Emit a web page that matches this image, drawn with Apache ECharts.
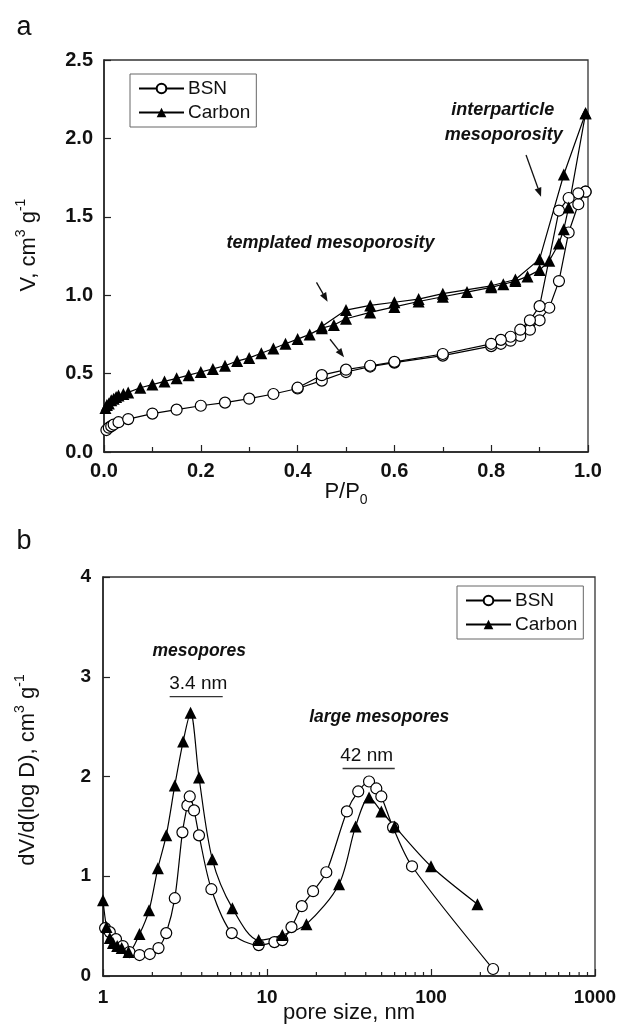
<!DOCTYPE html>
<html>
<head>
<meta charset="utf-8">
<script src="https://cdn.jsdelivr.net/npm/echarts@6/dist/echarts.min.js"></script>
<style>
    html, body { margin: 0; padding: 0; background: #fff; }
    #main { width: 620px; height: 1029px; }
</style>
</head>
<body>
<div id="main"></div>
<script>
// ---- panel a : N2 isotherms (adsorption + desorption branches) ----
var bsnAdsX = [0.005, 0.01, 0.015, 0.02, 0.03, 0.05, 0.1, 0.15, 0.2, 0.25, 0.3, 0.35, 0.4, 0.45, 0.5, 0.55, 0.6, 0.7, 0.8, 0.82, 0.84, 0.86, 0.88, 0.9, 0.92, 0.94, 0.96, 0.98, 0.995];
var bsnAdsY = [0.14, 0.155, 0.165, 0.175, 0.19, 0.21, 0.245, 0.27, 0.295, 0.315, 0.34, 0.37, 0.405, 0.455, 0.51, 0.545, 0.57, 0.615, 0.675, 0.69, 0.71, 0.74, 0.78, 0.84, 0.92, 1.09, 1.40, 1.58, 1.66];
var bsnDesX = [0.995, 0.98, 0.96, 0.94, 0.9, 0.88, 0.86, 0.84, 0.82, 0.8, 0.7, 0.6, 0.55, 0.5, 0.45, 0.4];
var bsnDesY = [1.66, 1.65, 1.62, 1.54, 0.93, 0.84, 0.78, 0.735, 0.715, 0.69, 0.625, 0.575, 0.55, 0.525, 0.49, 0.41];

var carAdsX = [0.003, 0.006, 0.01, 0.015, 0.02, 0.025, 0.03, 0.04, 0.05, 0.075, 0.1, 0.125, 0.15, 0.175, 0.2, 0.225, 0.25, 0.275, 0.3, 0.325, 0.35, 0.375, 0.4, 0.425, 0.45, 0.475, 0.5, 0.55, 0.6, 0.65, 0.7, 0.75, 0.8, 0.825, 0.85, 0.875, 0.9, 0.92, 0.94, 0.95, 0.96, 0.995];
var carAdsY = [0.28, 0.30, 0.31, 0.33, 0.34, 0.35, 0.36, 0.37, 0.38, 0.41, 0.43, 0.45, 0.47, 0.49, 0.51, 0.53, 0.55, 0.58, 0.60, 0.63, 0.66, 0.69, 0.72, 0.75, 0.79, 0.81, 0.85, 0.89, 0.925, 0.96, 0.99, 1.02, 1.05, 1.07, 1.09, 1.12, 1.16, 1.22, 1.33, 1.42, 1.56, 2.16];
var carDesX = [0.995, 0.95, 0.9, 0.85, 0.8, 0.7, 0.65, 0.6, 0.55, 0.5, 0.45];
var carDesY = [2.16, 1.77, 1.23, 1.10, 1.06, 1.01, 0.975, 0.955, 0.935, 0.905, 0.80];

var aXTicks = [0, 1, 0.2];     // min, max, interval
var aYTicks = [0, 2.5, 0.5];

// ---- panel b : pore size distributions ----
var bsnPoreX = [1.03, 1.1, 1.2, 1.32, 1.45, 1.67, 1.93, 2.18, 2.43, 2.74, 3.05, 3.27, 3.38, 3.59, 3.85, 4.58, 6.1, 8.9, 11.1, 12.4, 14.1, 16.3, 19.1, 23, 30.7, 36, 41.9, 46.4, 49.8, 58.7, 76.6, 239];
var bsnPoreY = [0.48, 0.44, 0.37, 0.30, 0.24, 0.21, 0.22, 0.28, 0.43, 0.78, 1.44, 1.71, 1.80, 1.66, 1.41, 0.87, 0.43, 0.31, 0.34, 0.36, 0.49, 0.70, 0.85, 1.04, 1.65, 1.85, 1.95, 1.88, 1.80, 1.49, 1.10, 0.07];
var carPoreX = [1.0, 1.05, 1.1, 1.15, 1.22, 1.3, 1.43, 1.67, 1.91, 2.16, 2.43, 2.74, 3.08, 3.42, 3.85, 4.64, 6.15, 8.9, 12.4, 17.4, 27.5, 34.7, 41.9, 49.8, 60, 100, 192];
var carPoreY = [0.76, 0.49, 0.38, 0.33, 0.30, 0.28, 0.24, 0.42, 0.66, 1.08, 1.41, 1.91, 2.35, 2.64, 1.99, 1.17, 0.68, 0.36, 0.41, 0.52, 0.92, 1.50, 1.79, 1.65, 1.50, 1.10, 0.72];

var bXRange = [1, 1000];
var bYTicks = [0, 4, 1];

var FONT = '"Liberation Sans", Arial, Helvetica, sans-serif';

function pairs(xs, ys) {
    return xs.map(function (x, i) { return [x, ys[i]]; });
}

function lineSeries(name, data, idx, marker, smooth, clip) {
    var circle = marker === 'o';
    return {
        name: name,
        type: 'line',
        xAxisIndex: idx,
        yAxisIndex: idx,
        data: data,
        symbol: circle ? 'circle' : 'triangle',
        symbolSize: circle ? 11 : 12,
        showSymbol: true,
        showAllSymbol: true,
        smooth: smooth,
        clip: clip,
        silent: true,
        animation: false,
        emphasis: {disabled: true},
        lineStyle: {color: '#000', width: 1.2},
        itemStyle: circle ? {color: '#fff', borderColor: '#000', borderWidth: 1.2}
                          : {color: '#000', borderColor: '#000', borderWidth: 0}
    };
}

var axisLine = {show: true, lineStyle: {color: '#222', width: 1.5}};
var tickIn = {show: true, inside: true, length: 7, lineStyle: {color: '#222', width: 1.2}};

function legendAt(left, top) {
    return {
        left: left, top: top,
        orient: 'vertical',
        data: ['BSN', 'Carbon'],
        selectedMode: false,
        borderColor: '#666',
        borderWidth: 1,
        padding: [5, 6, 5, 8],
        itemGap: 5,
        itemWidth: 45,
        itemHeight: 12,
        textStyle: {fontFamily: FONT, fontSize: 19, color: '#111', padding: [0, 0, 0, -1]}
    };
}

var chart = echarts.init(document.getElementById('main'));

chart.setOption({
    backgroundColor: '#fff',
    animation: false,
    legend: [legendAt(130, 74), legendAt(457, 586)],
    grid: [
        {left: 104, top: 60, width: 484, height: 392, show: true, borderColor: '#333', borderWidth: 1.3},
        {left: 103, top: 577, width: 492, height: 399, show: true, borderColor: '#333', borderWidth: 1.3}
    ],
    xAxis: [{
        gridIndex: 0,
        type: 'value',
        min: aXTicks[0], max: aXTicks[1], interval: aXTicks[2],
        axisLine: axisLine,
        axisTick: tickIn,
        minorTick: {show: true, splitNumber: 2, length: 5, lineStyle: {color: '#222', width: 1.2}},
        splitLine: {show: false},
        axisLabel: {margin: 9, color: '#111', fontFamily: FONT, fontWeight: 'bold', fontSize: 20,
            formatter: function (v) { return v.toFixed(1); }}
    }, {
        gridIndex: 1,
        type: 'log',
        logBase: 10,
        min: bXRange[0], max: bXRange[1],
        axisLine: axisLine,
        axisTick: tickIn,
        splitLine: {show: false},
        axisLabel: {margin: 12, color: '#111', fontFamily: FONT, fontWeight: 'bold', fontSize: 19,
            formatter: function (v) { return String(Math.round(v)); }}
    }],
    yAxis: [{
        gridIndex: 0,
        type: 'value',
        min: aYTicks[0], max: aYTicks[1], interval: aYTicks[2],
        axisLine: axisLine,
        axisTick: tickIn,
        splitLine: {show: false},
        axisLabel: {margin: 11, color: '#111', fontFamily: FONT, fontWeight: 'bold', fontSize: 20,
            formatter: function (v) { return v.toFixed(1); }}
    }, {
        gridIndex: 1,
        type: 'value',
        min: bYTicks[0], max: bYTicks[1], interval: bYTicks[2],
        axisLine: axisLine,
        axisTick: tickIn,
        splitLine: {show: false},
        axisLabel: {margin: 12, color: '#111', fontFamily: FONT, fontWeight: 'bold', fontSize: 19}
    }],
    series: [
        lineSeries('BSN', pairs(bsnAdsX, bsnAdsY), 0, 'o', false, false),
        lineSeries('BSN', pairs(bsnDesX, bsnDesY), 0, 'o', false, false),
        lineSeries('Carbon', pairs(carAdsX, carAdsY), 0, '^', false, false),
        lineSeries('Carbon', pairs(carDesX, carDesY), 0, '^', false, false),
        lineSeries('BSN', pairs(bsnPoreX, bsnPoreY), 1, 'o', 0.3, true),
        lineSeries('Carbon', pairs(carPoreX, carPoreY), 1, '^', 0.3, true)
    ]
});

// ---- text, arrows and log minor ticks, placed through the axes ----
var measureCtx = document.createElement('canvas').getContext('2d');
function textW(str, size, weight, style) {
    measureCtx.font = (style || 'normal') + ' ' + (weight || 'normal') + ' ' + size + 'px ' + FONT;
    return measureCtx.measureText(str).width;
}

function txt(str, x, y, size, opts) {
    opts = opts || {};
    return {
        type: 'text', x: x, y: y, silent: true,
        style: {
            text: str, fill: '#111',
            fontFamily: FONT, fontSize: size,
            fontWeight: opts.weight || 'normal', fontStyle: opts.style || 'normal',
            align: opts.align || 'center', verticalAlign: 'middle',
            textAlign: opts.align || 'center', textVerticalAlign: 'middle'
        }
    };
}

// parts: [text, size, dy]
function scriptTitle(parts, cx, cy, rotate) {
    var total = 0;
    parts.forEach(function (p) { total += textW(p[0], p[1]); });
    var x = -total / 2;
    var kids = [];
    parts.forEach(function (p) {
        kids.push(txt(p[0], x, p[2], p[1], {align: 'left'}));
        x += textW(p[0], p[1]);
    });
    return {type: 'group', x: cx, y: cy, rotation: rotate ? Math.PI / 2 : 0, silent: true, children: kids};
}

function arrow(p0, p1) {
    var dx = p1[0] - p0[0], dy = p1[1] - p0[1];
    var len = Math.sqrt(dx * dx + dy * dy);
    var ux = dx / len, uy = dy / len;
    var hl = 9, hw = 3.5;
    var bx = p1[0] - ux * hl, by = p1[1] - uy * hl;
    return [{
        type: 'line', silent: true,
        shape: {x1: p0[0], y1: p0[1], x2: bx, y2: by},
        style: {stroke: '#111', lineWidth: 1.3}
    }, {
        type: 'polygon', silent: true,
        shape: {points: [[p1[0], p1[1]], [bx - uy * hw, by + ux * hw], [bx + uy * hw, by - ux * hw]]},
        style: {fill: '#111'}
    }];
}

function pa(pt) { return chart.convertToPixel({gridIndex: 0}, pt); }
function pb(pt) { return chart.convertToPixel({gridIndex: 1}, pt); }

var g = [];
g.push(txt('a', 24, 28, 27));
g.push(txt('b', 24, 542, 27));

// axis titles
var p = pa([0.5, 0]);
g.push(scriptTitle([['P/P', 22, 0], ['0', 14, 8]], p[0], 492, false));
g.push(scriptTitle([['V, cm', 22, 0], ['3', 14, -8], [' g', 22, 0], ['-1', 14, -8]], 29, 245, true));
p = pb([31.6, 0]);
g.push(scriptTitle([['pore size, nm', 22, 0]], p[0], 1013, false));
g.push(scriptTitle([['dV/d(log D), cm', 22, 0], ['3', 14, -8], [' g', 22, 0], ['-1', 14, -8]], 28, 770, true));

// panel a annotations
var bi = {weight: 'bold', style: 'italic'};
p = pa([0.468, 1.333]); g.push(txt('templated mesoporosity', p[0], p[1], 18, bi));
p = pa([0.824, 2.18]); g.push(txt('interparticle', p[0], p[1], 18, bi));
p = pa([0.826, 2.02]); g.push(txt('mesoporosity', p[0], p[1], 18, bi));
g = g.concat(arrow(pa([0.872, 1.894]), pa([0.903, 1.628])));
g = g.concat(arrow(pa([0.439, 1.082]), pa([0.462, 0.959])));
g = g.concat(arrow(pa([0.467, 0.719]), pa([0.496, 0.604])));

// panel b annotations
p = pb([3.86, 3.26]); g.push(txt('mesopores', p[0], p[1], 17.5, bi));
p = pb([3.81, 2.93]); g.push(txt('3.4 nm', p[0], p[1], 19));
var u0 = pb([2.55, 2.80]), u1 = pb([5.37, 2.80]);
g.push({type: 'line', silent: true, shape: {x1: u0[0], y1: u0[1], x2: u1[0], y2: u1[1]}, style: {stroke: '#333', lineWidth: 1.3}});
p = pb([48.3, 2.59]); g.push(txt('large mesopores', p[0], p[1], 17.5, bi));
p = pb([40.5, 2.21]); g.push(txt('42 nm', p[0], p[1], 19));
u0 = pb([28.9, 2.08]); u1 = pb([60.1, 2.08]);
g.push({type: 'line', silent: true, shape: {x1: u0[0], y1: u0[1], x2: u1[0], y2: u1[1]}, style: {stroke: '#333', lineWidth: 1.3}});

// log-axis minor ticks (2..9 in each decade)
for (var dec = 1; dec < bXRange[1]; dec *= 10) {
    for (var m = 2; m <= 9; m++) {
        var t = pb([m * dec, 0]);
        g.push({type: 'line', silent: true, z: 10,
            shape: {x1: t[0], y1: t[1], x2: t[0], y2: t[1] - 4},
            style: {stroke: '#222', lineWidth: 1.2}});
    }
}

chart.setOption({graphic: g});
</script>
</body>
</html>
